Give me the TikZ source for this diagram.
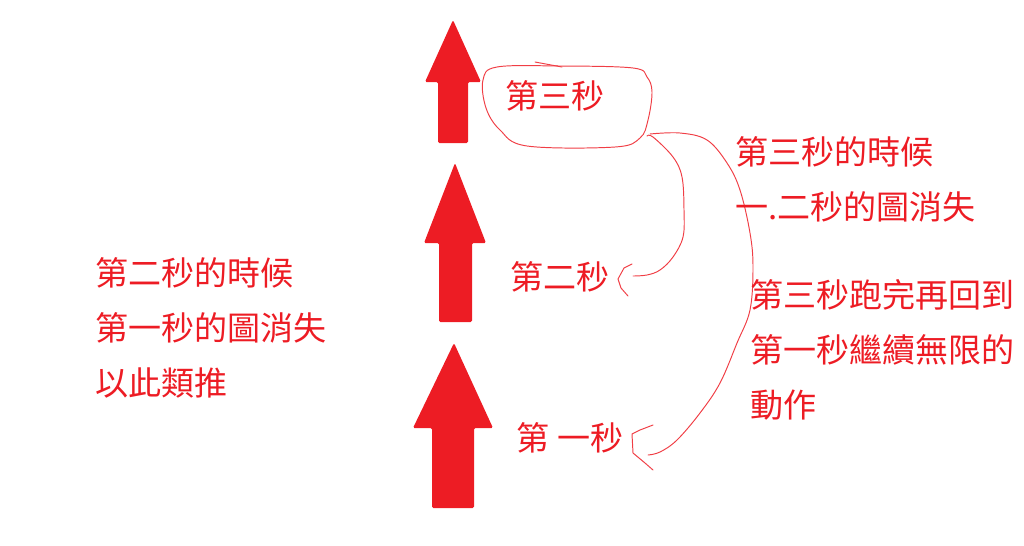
\documentclass[tikz,border=0pt]{standalone}
\usepackage{fontspec}
\usepackage{tikz}
\usetikzlibrary{calc,positioning}
\newfontfamily\cjk{Noto Sans CJK TC}
\definecolor{paintred}{HTML}{ED1C24}
\tikzset{
  upstep/.style={fill=paintred, rounded corners=0.8pt},
  lbl/.style={text=paintred, inner sep=0pt, font=\cjk\fontsize{18.8}{20}\selectfont},
  note/.style={lbl, anchor=west},
  pen/.style={draw=paintred!85, line width=0.55pt, line cap=round, line join=round}
}

\begin{document}
\begin{tikzpicture}[x=0.02cm, y=-0.02cm]
		\useasboundingbox (0, 0) rectangle (1024, 545);
		% three arrows, one for each second
		\fill[upstep](453, 20) -- (481, 82) -- (468, 82) -- (468, 143) -- (438, 143) -- (438, 82) -- (425, 82) -- cycle;
		\fill[upstep](455, 163) -- (486, 243) -- (472, 243) -- (472, 322) -- (439, 322) -- (439, 243) -- (424, 243) -- cycle;
		\fill[upstep](454, 343) -- (493, 428) -- (474, 428) -- (474, 508) -- (432, 508) -- (432, 428) -- (413, 428) -- cycle;

		\node[lbl] (sec3) at (555, 96) {第三秒};
		\node[lbl] (sec2) at (560, 277) {第二秒};
		\node[lbl] (sec1) at (570, 438) {第 一秒};

		% loop drawn round the third second
		\draw[pen] plot[smooth cycle, tension=0.6] coordinates {(497, 67) (560, 66) (633, 68) (647, 77) (652, 92) (648, 120) (640, 138) (615, 147) (527, 146) (500, 130) (486, 108) (483, 80)};
		\draw[pen](535, 62) -- (562, 67);
		\coordinate (rim) at (647, 136);

		% back to the second second
		\draw[pen] plot[smooth, tension=0.6] coordinates {(rim) (653, 137) (673, 157) (682, 177) (684, 210) (683, 237) (673, 257) (660, 270) (647, 275) (633, 276)};
		\draw[pen](632, 264) -- (624, 268) -- (618, 279) -- (621, 288) -- (628, 296);

		% back to the first second
		\draw[pen] plot[smooth, tension=0.6] coordinates {(650, 134) (680, 133) (707, 140) (727, 163) (740, 190) (750, 233) (753, 267) (750, 310) (737, 343) (720, 383) (700, 413) (677, 440) (660, 452) (648, 455)};
		\draw[pen](653, 425) -- (640, 430) -- (632, 434) -- (633, 453) -- (645, 463) -- (653, 470);

		\node[note] (r1) at (735, 152) {第三秒的時候};
		\node[note] (r2) at (735, 207) {一.二秒的圖消失};
		\node[note] (r3) at (750, 295) {第三秒跑完再回到};
		\node[note] (r4) at (750, 350) {第一秒繼續無限的};
		\node[note] (r5) at (750, 405) {動作};

		\node[note] (l1) at (95, 273) {第二秒的時候};
		\node[note] (l2) at (95, 328) {第一秒的圖消失};
		\node[note] (l3) at (95, 383) {以此類推};
\end{tikzpicture}
\end{document}
